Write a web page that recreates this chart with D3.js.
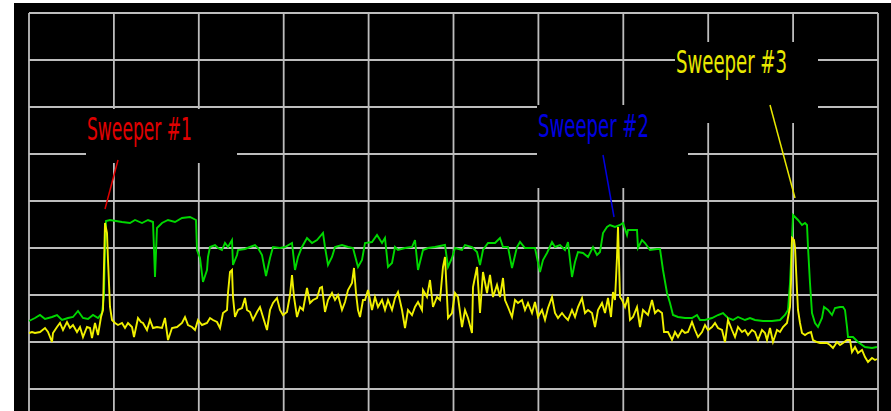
<!DOCTYPE html>
<html>
<head>
<meta charset="utf-8">
<script src="https://cdn.jsdelivr.net/npm/d3@7/dist/d3.min.js"></script>
<style>
  html, body { margin: 0; padding: 0; background: #fff; }
  svg { display: block; }
</style>
</head>
<body>
<div id="screen"></div>
<script>
// trace data: [frequency MHz, level dBm]
var maxHold = [
  [2400.0,-81.6],[2400.6,-81.0],[2401.1,-80.4],[2401.6,-81.2],[2402.3,-80.8],[2402.8,-80.4],[2403.3,-81.4],
  [2403.9,-81.0],[2404.4,-80.8],[2404.9,-79.6],[2405.4,-81.0],[2405.9,-81.2],[2406.4,-80.4],[2406.9,-81.0],
  [2407.3,-80.0],[2407.5,-76.4],[2407.6,-67.0],[2407.7,-61.6],[2408.1,-61.4],[2409.3,-61.8],[2410.1,-62.0],
  [2410.6,-61.4],[2411.3,-62.0],[2411.9,-61.4],[2412.4,-61.8],[2412.6,-72.8],[2412.8,-63.0],[2413.3,-62.0],
  [2413.9,-61.4],[2414.6,-61.8],[2415.3,-61.0],[2416.1,-60.8],[2416.7,-61.4],[2416.8,-67.4],[2417.1,-69.0],
  [2417.4,-73.8],[2417.8,-71.4],[2417.9,-68.8],[2418.1,-66.8],[2418.6,-66.4],[2418.9,-67.0],[2419.3,-67.4],
  [2419.6,-66.0],[2419.9,-66.8],[2420.3,-65.4],[2420.4,-70.4],[2420.8,-68.4],[2420.9,-67.4],[2421.6,-67.2],
  [2422.1,-66.8],[2422.6,-66.4],[2422.9,-67.0],[2423.3,-68.4],[2423.7,-72.6],[2424.1,-69.0],[2424.4,-66.8],
  [2425.1,-67.0],[2425.6,-66.8],[2426.3,-66.0],[2426.6,-71.4],[2426.9,-68.8],[2427.3,-66.8],[2427.8,-65.0],
  [2428.3,-66.0],[2428.8,-65.4],[2429.4,-64.0],[2429.6,-66.8],[2429.9,-70.4],[2430.3,-68.8],[2430.6,-66.8],
  [2431.3,-66.4],[2431.9,-66.8],[2432.4,-67.0],[2432.9,-70.8],[2433.3,-69.4],[2433.6,-66.0],[2434.3,-65.8],
  [2434.8,-64.4],[2435.3,-66.0],[2435.6,-65.0],[2435.9,-70.8],[2436.3,-70.0],[2436.6,-66.8],[2436.9,-67.4],
  [2437.6,-67.0],[2438.3,-66.8],[2438.6,-65.4],[2438.9,-71.4],[2439.4,-67.4],[2439.9,-67.0],[2440.6,-66.8],
  [2441.6,-66.4],[2441.9,-70.8],[2442.3,-69.0],[2442.6,-67.0],[2443.3,-67.4],[2443.6,-66.4],[2444.3,-66.8],
  [2444.8,-67.8],[2445.1,-70.4],[2445.4,-67.4],[2445.9,-66.0],[2446.6,-66.0],[2447.1,-65.0],[2447.4,-66.8],
  [2447.9,-66.8],[2448.3,-71.0],[2448.8,-66.8],[2449.1,-65.8],[2449.6,-67.0],[2450.1,-67.0],[2450.6,-67.0],
  [2451.1,-71.8],[2451.4,-69.4],[2451.8,-68.0],[2452.3,-65.8],[2452.6,-66.8],[2453.1,-66.4],[2453.6,-67.4],
  [2453.9,-65.8],[2454.1,-69.4],[2454.3,-72.8],[2454.6,-69.8],[2454.9,-67.8],[2455.4,-68.0],[2455.9,-68.8],
  [2456.4,-66.8],[2456.8,-68.4],[2457.1,-67.8],[2457.4,-64.0],[2457.8,-62.8],[2458.1,-62.4],[2458.6,-62.8],
  [2459.1,-62.4],[2459.4,-62.0],[2459.8,-64.4],[2459.9,-63.4],[2460.3,-63.4],[2460.8,-63.4],[2460.9,-67.0],
  [2461.3,-65.4],[2461.6,-66.0],[2462.1,-67.4],[2462.8,-67.2],[2463.1,-67.2],[2463.4,-71.4],[2463.8,-76.0],
  [2464.1,-78.0],[2464.4,-80.4],[2464.9,-80.8],[2465.6,-81.0],[2466.3,-81.0],[2466.8,-80.4],[2467.1,-81.4],
  [2467.6,-81.4],[2468.3,-81.0],[2468.9,-80.4],[2469.4,-80.0],[2469.9,-81.0],[2470.4,-81.4],[2470.9,-80.8],
  [2471.6,-81.4],[2472.1,-81.0],[2472.6,-81.4],[2473.4,-81.6],[2474.3,-81.6],[2475.1,-81.4],[2475.6,-80.4],
  [2475.9,-79.4],[2476.1,-74.0],[2476.3,-65.4],[2476.4,-60.4],[2476.9,-61.4],[2477.3,-62.4],[2477.6,-62.0],
  [2477.8,-62.4],[2477.9,-66.8],[2478.1,-74.0],[2478.3,-80.0],[2478.6,-82.0],[2478.9,-82.8],[2479.3,-81.0],
  [2479.5,-78.8],[2479.9,-79.4],[2480.3,-80.4],[2480.6,-79.0],[2481.1,-78.8],[2481.4,-78.8],[2481.6,-79.4],
  [2481.8,-82.8],[2481.9,-84.8],[2482.4,-84.8],[2482.9,-85.8],[2483.6,-86.8],[2484.3,-87.0],[2484.8,-86.8]
];

var liveTrace = [
  [2400.0,-84.0],[2400.3,-83.8],[2400.6,-84.0],[2401.1,-83.8],[2401.6,-83.0],[2401.9,-83.8],[2402.3,-85.8],
  [2402.4,-84.0],[2402.8,-82.8],[2403.1,-82.0],[2403.4,-83.4],[2403.8,-81.8],[2404.1,-83.0],[2404.4,-82.4],
  [2404.8,-83.8],[2405.1,-82.8],[2405.4,-84.8],[2405.8,-82.8],[2406.1,-83.0],[2406.3,-85.0],[2406.6,-82.0],
  [2406.9,-84.4],[2407.2,-80.8],[2407.4,-79.4],[2407.6,-62.0],[2407.8,-64.0],[2407.9,-69.4],[2408.1,-78.8],
  [2408.3,-81.4],[2408.6,-82.0],[2408.9,-82.4],[2409.3,-82.0],[2409.6,-83.0],[2409.9,-82.0],[2410.3,-82.8],
  [2410.5,-84.8],[2410.9,-81.0],[2411.2,-81.8],[2411.4,-82.0],[2411.8,-83.4],[2412.1,-81.4],[2412.4,-83.0],
  [2412.8,-82.8],[2413.3,-83.0],[2413.6,-81.0],[2413.9,-85.4],[2414.3,-83.0],[2414.8,-82.8],[2415.3,-82.0],
  [2415.6,-80.8],[2415.9,-82.4],[2416.3,-82.8],[2416.6,-83.4],[2416.9,-81.4],[2417.3,-82.4],[2417.8,-82.0],
  [2418.1,-81.0],[2418.4,-81.4],[2418.8,-81.8],[2419.1,-83.0],[2419.4,-80.0],[2419.8,-79.4],[2419.9,-76.0],
  [2420.1,-71.8],[2420.3,-71.4],[2420.4,-76.8],[2420.6,-80.8],[2420.9,-79.4],[2421.3,-79.0],[2421.6,-77.0],
  [2421.8,-79.4],[2422.1,-79.8],[2422.4,-81.4],[2422.8,-79.8],[2423.1,-78.8],[2423.4,-80.8],[2423.8,-83.4],
  [2424.1,-79.4],[2424.4,-78.0],[2424.8,-77.0],[2425.1,-79.4],[2425.4,-80.4],[2425.8,-79.8],[2426.1,-76.4],
  [2426.3,-72.4],[2426.5,-76.8],[2426.8,-80.8],[2427.1,-78.8],[2427.4,-79.4],[2427.8,-75.0],[2428.1,-78.0],
  [2428.4,-77.4],[2428.8,-77.0],[2429.1,-75.0],[2429.3,-74.8],[2429.6,-79.8],[2429.9,-77.4],[2430.3,-76.0],
  [2430.6,-77.4],[2430.9,-76.4],[2431.3,-79.4],[2431.6,-77.8],[2431.9,-75.4],[2432.3,-74.0],[2432.5,-71.0],
  [2432.7,-76.0],[2432.9,-79.4],[2433.1,-80.8],[2433.4,-77.4],[2433.6,-77.4],[2433.9,-75.4],[2434.3,-79.4],
  [2434.6,-76.8],[2434.9,-78.8],[2435.3,-77.4],[2435.6,-79.4],[2435.9,-77.4],[2436.3,-79.4],[2436.6,-77.0],
  [2436.9,-75.8],[2437.3,-79.4],[2437.6,-83.0],[2437.9,-79.4],[2438.3,-80.4],[2438.6,-78.8],[2438.9,-77.8],
  [2439.3,-79.4],[2439.4,-75.4],[2439.8,-76.8],[2440.1,-73.4],[2440.4,-78.8],[2440.8,-76.8],[2441.1,-77.4],
  [2441.4,-70.8],[2441.6,-68.8],[2441.8,-76.8],[2441.9,-81.0],[2442.3,-80.0],[2442.6,-76.0],[2442.9,-76.8],
  [2443.3,-82.8],[2443.6,-79.4],[2443.9,-81.0],[2444.3,-84.0],[2444.4,-74.8],[2444.8,-70.8],[2445.1,-80.0],
  [2445.4,-71.8],[2445.8,-76.0],[2446.1,-72.4],[2446.4,-76.8],[2446.8,-74.4],[2447.1,-76.8],[2447.4,-73.0],
  [2447.6,-77.4],[2447.9,-78.8],[2448.3,-80.8],[2448.6,-77.4],[2448.9,-78.0],[2449.3,-77.4],[2449.6,-79.4],
  [2449.9,-78.0],[2450.3,-80.0],[2450.6,-77.8],[2450.9,-80.8],[2451.3,-79.4],[2451.6,-81.4],[2451.9,-79.0],
  [2452.3,-76.8],[2452.6,-80.0],[2452.9,-81.0],[2453.3,-80.0],[2453.6,-80.8],[2453.9,-81.4],[2454.3,-79.4],
  [2454.6,-80.8],[2454.9,-78.8],[2455.3,-77.0],[2455.6,-80.0],[2455.9,-79.4],[2456.3,-80.0],[2456.6,-82.8],
  [2456.9,-79.4],[2457.3,-78.0],[2457.6,-80.0],[2457.9,-77.0],[2458.2,-80.8],[2458.4,-75.8],[2458.6,-77.4],
  [2458.8,-68.8],[2458.9,-62.8],[2459.1,-76.8],[2459.3,-77.4],[2459.6,-78.8],[2459.9,-76.8],[2460.1,-81.4],
  [2460.4,-80.8],[2460.8,-78.8],[2461.1,-82.8],[2461.4,-79.4],[2461.9,-80.4],[2462.3,-77.4],[2462.6,-80.0],
  [2462.9,-79.4],[2463.3,-80.0],[2463.5,-83.8],[2463.9,-83.8],[2464.3,-85.4],[2464.6,-83.8],[2464.9,-84.8],
  [2465.3,-83.4],[2465.6,-84.0],[2465.9,-83.8],[2466.3,-81.8],[2466.6,-83.4],[2466.9,-84.8],[2467.3,-83.8],
  [2467.6,-82.4],[2467.9,-83.4],[2468.3,-82.8],[2468.6,-82.0],[2468.9,-83.0],[2469.3,-83.4],[2469.6,-85.8],
  [2469.9,-81.4],[2470.3,-83.4],[2470.6,-84.8],[2470.9,-82.8],[2471.3,-83.8],[2471.6,-83.4],[2471.9,-84.4],
  [2472.3,-83.4],[2472.6,-83.8],[2472.9,-85.4],[2473.3,-83.4],[2473.6,-84.0],[2473.8,-85.4],[2474.1,-83.0],
  [2474.4,-85.8],[2474.8,-83.4],[2475.1,-83.8],[2475.4,-82.8],[2475.8,-82.0],[2476.1,-78.8],[2476.2,-74.0],
  [2476.3,-65.0],[2476.5,-65.4],[2476.6,-66.8],[2476.8,-75.4],[2476.9,-79.4],[2477.1,-82.0],[2477.3,-84.0],
  [2477.6,-84.4],[2477.9,-84.0],[2478.2,-83.8],[2478.4,-85.4],[2478.8,-85.8],[2479.1,-86.0],[2479.4,-86.0],
  [2479.8,-86.0],[2480.1,-86.4],[2480.4,-87.0],[2480.8,-85.8],[2481.1,-86.4],[2481.4,-86.0],[2481.8,-85.4],
  [2482.1,-85.4],[2482.3,-87.8],[2482.6,-86.8],[2482.9,-88.0],[2483.3,-87.4],[2483.6,-88.8],[2483.9,-89.8],
  [2484.3,-89.0],[2484.6,-89.4],[2484.8,-89.2]
];

// annotations: label text and the trace point it points at
var sweeperNames = ["Sweeper #1", "Sweeper #2", "Sweeper #3"];
var sweeperColors = ["#e00000", "#0000e0", "#e8e800"];
var sweeperTips = [[2407.6, -59.2], [2458.5, -60.8], [2476.6, -57.0]];

var freqStart = 2400, freqStop = 2484.9;
var refLevel = -20, dbPerDiv = 9.4;
var xDivs = 10, yDivs = 8;

var W = 891, H = 411;
var svg = d3.select("#screen").append("svg").attr("width", W).attr("height", H);

// black screen area
svg.append("rect").attr("x", 14).attr("y", 3).attr("width", W - 14).attr("height", H - 3).attr("fill", "#000");

var x = d3.scaleLinear().domain([freqStart, freqStop]).range([29, 878]);
var y = d3.scaleLinear().domain([refLevel, refLevel - yDivs * dbPerDiv]).range([13, 389]);

// graticule
var grid = svg.append("g").attr("stroke", "#bdbdbd").attr("stroke-width", 1.8);
d3.range(xDivs + 1).forEach(function(i){
  var f = freqStart + i * (freqStop - freqStart) / xDivs;
  grid.append("line").attr("x1", x(f)).attr("x2", x(f)).attr("y1", y(refLevel)).attr("y2", H + 5);
});
d3.range(yDivs + 2).forEach(function(i){
  var l = refLevel - i * dbPerDiv;
  grid.append("line").attr("x1", x(freqStart)).attr("x2", x(freqStop)).attr("y1", y(l)).attr("y2", y(l));
});

// black boxes behind the labels
var boxes = [[86, 109, 151, 54], [537, 105, 151, 83], [675, 42, 143, 81]];
boxes.forEach(function(b){
  svg.append("rect").attr("x", b[0]).attr("y", b[1]).attr("width", b[2]).attr("height", b[3]).attr("fill", "#000");
});

var line = d3.line().x(function(d){ return x(d[0]); }).y(function(d){ return y(d[1]); });

svg.append("path").datum(maxHold).attr("d", line).attr("fill", "none")
  .attr("stroke", "#00d800").attr("stroke-width", 1.9).attr("stroke-linejoin", "miter");
svg.append("path").datum(liveTrace).attr("d", line).attr("fill", "none")
  .attr("stroke", "#f0f000").attr("stroke-width", 1.9).attr("stroke-linejoin", "miter");

// labels and pointers
var labelPos = [[87, 140, 105], [538, 137, 111], [676, 73, 111]];
var pointerStart = [[118, 160], [603, 155], [770, 105]];
sweeperNames.forEach(function(name, i){
  svg.append("text").attr("x", labelPos[i][0]).attr("y", labelPos[i][1])
    .attr("textLength", labelPos[i][2]).attr("lengthAdjust", "spacingAndGlyphs")
    .attr("font-family", "'Liberation Sans Narrow', 'DejaVu Sans Condensed', sans-serif")
    .attr("font-size", 31.5)
    .attr("fill", sweeperColors[i]).text(name);
  svg.append("line").attr("x1", pointerStart[i][0]).attr("y1", pointerStart[i][1])
    .attr("x2", x(sweeperTips[i][0])).attr("y2", y(sweeperTips[i][1]))
    .attr("stroke", sweeperColors[i]).attr("stroke-width", 1.5);
});
</script>
</body>
</html>
